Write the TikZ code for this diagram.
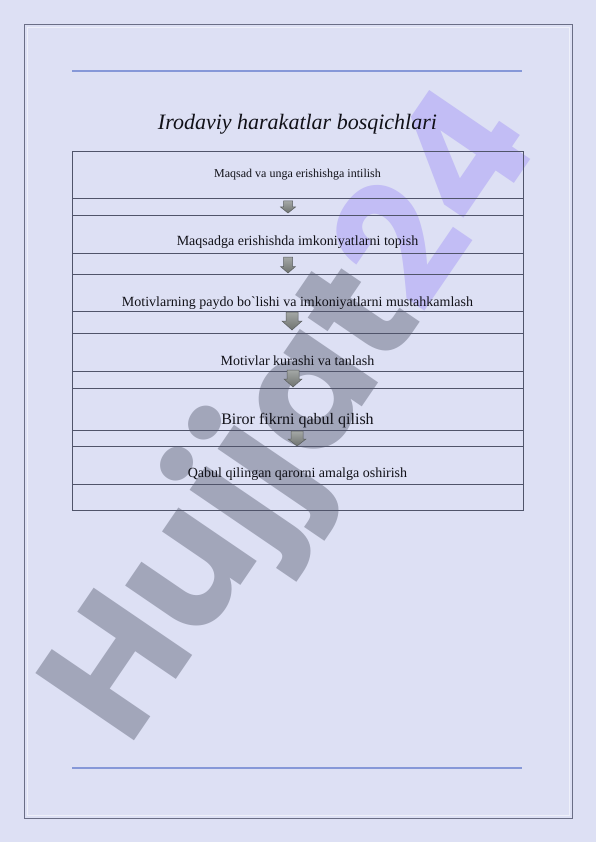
\documentclass[tikz,border=0pt]{standalone}
\usepackage{fontspec}
\setmainfont{Liberation Serif}
\newfontfamily\wmfont{Poppins}
\definecolor{bg}{HTML}{DDE0F4}
\definecolor{framecol}{HTML}{6A6E86}
\definecolor{innerframe}{HTML}{EEF0FA}
\definecolor{rulecol}{HTML}{8698D8}
\definecolor{tline}{HTML}{50546A}
\definecolor{wmgray}{HTML}{A2A6BA}
\definecolor{wmpurple}{HTML}{C2BDF5}
\definecolor{arrtop}{HTML}{A4A8A6}
\definecolor{arrbot}{HTML}{6E726F}
\definecolor{arrdraw}{HTML}{5A5E60}
\definecolor{txt}{HTML}{111118}
\tikzset{
  tableline/.style={draw=tline, line width=0.8pt},
  deco/.style={draw=rulecol, line width=1.4pt},
  stage/.style={anchor=base, inner sep=0pt, text=txt},
  blockarrow/.style={top color=arrtop, bottom color=arrbot, draw=arrdraw, line width=0.5pt, line join=miter},
}
% down block arrow: cx, top, head base, tip, shaft half width, head half width
\newcommand\downblock[6]{%
  \path[blockarrow] (#1-#5,#2) -- (#1+#5,#2) -- (#1+#5,#3) -- (#1+#6,#3) -- (#1,#4)
    -- (#1-#6,#3) -- (#1-#5,#3) -- cycle;}
\begin{document}
\begin{tikzpicture}[x=1pt,y=-1pt]
\useasboundingbox (0,0) rectangle (596,842);
\fill[bg] (0,0) rectangle (596,842);
% watermark
\node[anchor=base west, inner sep=0pt, rotate=55.7, font=\wmfont\bfseries\fontsize{170}{170}\selectfont]
  (wm) at (128,750) {\textcolor{wmgray}{Hujjat}\textcolor{wmpurple}{24}};
% page frame
\draw[framecol, line width=0.8pt] (24,24) rectangle (572,818);
\draw[innerframe, line width=0.6pt] (27,27) rectangle (569,815);
% header and footer rules
\draw[deco] (72,71) -- (522,71);
\draw[deco] (72,768) -- (522,768);
% title
\node[anchor=base, inner sep=0pt, text=txt, font=\itshape\fontsize{22}{26}\selectfont] (title) at (297.5,130) {Irodaviy harakatlar bosqichlari};
% table
\draw[tableline] (72,151) rectangle (523,510);
\foreach \yy in {198,215,253,274,311,333,371,388,430,446,484}
  \draw[tableline] (72,\yy) -- (523,\yy);
% stages
\node[stage, font=\fontsize{12}{14}\selectfont] (s1) at (297.5,177.5) {Maqsad va unga erishishga intilish};
\node[stage, font=\fontsize{14}{16}\selectfont] (s2) at (297.5,245.5) {Maqsadga erishishda imkoniyatlarni topish};
\node[stage, font=\fontsize{14}{16}\selectfont] (s3) at (297.5,306) {Motivlarning paydo bo\textasciigrave lishi va imkoniyatlarni mustahkamlash};
\node[stage, font=\fontsize{14}{16}\selectfont] (s4) at (297.5,365) {Motivlar kurashi va tanlash};
\node[stage, font=\fontsize{16}{18}\selectfont] (s5) at (297.5,424) {Biror fikrni qabul qilish};
\node[stage, font=\fontsize{14}{16}\selectfont] (s6) at (297.5,477.5) {Qabul qilingan qarorni amalga oshirish};
% arrows
\downblock{288}{201}{207}{213}{4.5}{7.5}
\downblock{288}{257}{266.5}{273}{4.5}{7.5}
\downblock{292}{312}{321}{330}{6}{10}
\downblock{293}{370}{379}{387}{6}{9}
\downblock{297}{431}{439}{446}{6}{9}
\end{tikzpicture}
\end{document}
